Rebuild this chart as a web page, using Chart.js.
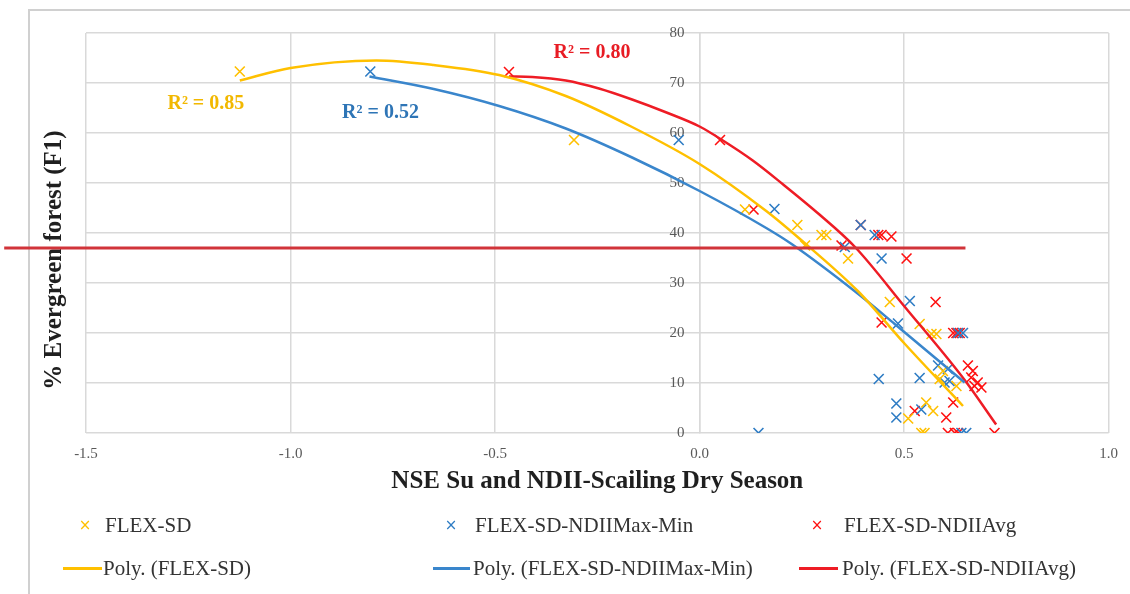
<!DOCTYPE html>
<html>
<head>
<meta charset="utf-8">
<script src="https://cdn.jsdelivr.net/npm/chart.js@4.4.1/dist/chart.umd.min.js"></script>
<style>
  html, body { margin: 0; padding: 0; background: #fff; }
  #wrap { position: relative; width: 1130px; height: 594px; overflow: hidden; }
  #c { position: absolute; left: 0; top: 0; }
  .leg { position: absolute; font-family: 'Liberation Serif', 'Times New Roman', serif; font-size: 21px; line-height: 24px; color: #333; white-space: nowrap; }
  .mk { position: absolute; font-family: 'DejaVu Sans', sans-serif; font-size: 15px; line-height: 24px; transform: translateX(-50%); }
  .sw { position: absolute; height: 3px; }
</style>
</head>
<body>
<div id="wrap">
  <canvas id="c" width="1130" height="594"></canvas>
  <div id="legend"></div>
</div>
<script>
// ---- data ----
const X_TICKS = [-1.5, -1.0, -0.5, 0.0, 0.5, 1.0];
const Y_TICKS = [0, 10, 20, 30, 40, 50, 60, 70, 80];

const SERIES = ['FLEX-SD', 'FLEX-SD-NDIIMax-Min', 'FLEX-SD-NDIIAvg'];
const R2 = ['R\u00B2 = 0.85', 'R\u00B2 = 0.52', 'R\u00B2 = 0.80'];

// FLEX-SD (yellow)
const sdX = [-1.124, -0.307, 0.111, 0.239, 0.298, 0.310, 0.258, 0.363, 0.465, 0.538, 0.567, 0.579, 0.595, 0.587, 0.628, 0.554, 0.571, 0.510, 0.542, 0.550];
const sdY = [72.3, 58.6, 44.7, 41.6, 39.6, 39.6, 37.5, 34.9, 26.2, 21.8, 19.8, 19.8, 12.4, 10.8, 9.4, 6.1, 4.4, 2.9, 0, 0];

// FLEX-SD-NDIIMax-Min (blue)
const mmX = [-0.805, -0.051, 0.183, 0.394, 0.428, 0.355, 0.445, 0.514, 0.485, 0.632, 0.644, 0.583, 0.607, 0.438, 0.538, 0.599, 0.611, 0.481, 0.542, 0.481, 0.144, 0.640, 0.652];
const mmY = [72.3, 58.6, 44.8, 41.6, 39.6, 37.2, 34.9, 26.4, 21.9, 20, 20, 13.5, 12.8, 10.8, 11.0, 10.1, 10.4, 5.9, 4.7, 3.1, 0, 0, 0];

// FLEX-SD-NDIIAvg (red)
const avX = [-0.466, 0.050, 0.132, 0.394, 0.437, 0.445, 0.469, 0.347, 0.506, 0.577, 0.445, 0.620, 0.628, 0.636, 0.656, 0.668, 0.664, 0.680, 0.672, 0.689, 0.620, 0.526, 0.603, 0.607, 0.624, 0.632, 0.721];
const avY = [72.2, 58.6, 44.7, 41.6, 39.6, 39.6, 39.3, 37.5, 34.9, 26.2, 22.1, 20, 20, 20, 13.5, 12.4, 11.1, 10.1, 9.4, 9.1, 6.1, 4.4, 3.1, 0, 0, 0, 0];

// Poly. trend lines, sampled along the drawn curves
const sdPolyX = [-1.124, -1.0, -0.79, -0.65, -0.49, -0.327, -0.165, 0.0, 0.163, 0.244, 0.388, 0.502, 0.644];
const sdPolyY = [70.5, 73.0, 74.5, 73.6, 71.6, 67.4, 61.2, 53.8, 44.4, 38.9, 28.3, 17.8, 5.4];
const mmPolyX = [-0.807, -0.65, -0.49, -0.327, -0.165, 0.0, 0.163, 0.225, 0.388, 0.477, 0.648];
const mmPolyY = [71.3, 68.8, 65.4, 60.9, 55.1, 48.4, 41.0, 37.8, 27.8, 21.8, 10.1];
const avPolyX = [-0.466, -0.409, -0.327, -0.246, -0.165, -0.084, 0.0, 0.057, 0.13, 0.203, 0.293, 0.38, 0.502, 0.648, 0.725];
const avPolyY = [71.3, 71.2, 70.5, 68.9, 66.7, 64.2, 61.3, 58.5, 54.5, 49.8, 43.7, 37.2, 25.2, 10.6, 1.7];

// the thick red marker line across the plot
const refLineY = 37;
const refLineFromX = -1.70;
const refLineToX = 0.65;

// ---- styling ----
const MARK_COLORS = ['#FFC000', '#2E7CC4', '#FF1010'];
const LINE_COLORS = ['#FFC000', '#3A86CC', '#EE1C25'];
const R2_COLORS = ['#F2B800', '#2E75B6', '#E81C24'];
const GRID = '#d9d9d9';
const SERIF = "'Liberation Serif', 'Times New Roman', serif";

const pts = (xs, ys) => xs.map((x, i) => ({ x: x, y: ys[i] }));

function scatterSet(i, xs, ys) {
  return {
    type: 'scatter', label: SERIES[i], data: pts(xs, ys),
    pointStyle: 'crossRot', pointRadius: 7, pointBorderWidth: 1.6,
    borderColor: MARK_COLORS[i], backgroundColor: MARK_COLORS[i], order: 2
  };
}
function polySet(i, xs, ys) {
  return {
    type: 'line', label: 'Poly. (' + SERIES[i] + ')', data: pts(xs, ys),
    borderColor: LINE_COLORS[i], borderWidth: 2.5, pointRadius: 0,
    cubicInterpolationMode: 'monotone', fill: false, order: 1
  };
}

const extras = {
  id: 'extras',
  beforeDraw(chart) {
    const ctx = chart.ctx;
    ctx.save();
    ctx.fillStyle = '#fff';
    ctx.fillRect(0, 0, chart.width, chart.height);
    // outer chart frame
    ctx.strokeStyle = '#d0d0d0';
    ctx.lineWidth = 2;
    ctx.beginPath();
    ctx.moveTo(29, chart.height + 5);
    ctx.lineTo(29, 10);
    ctx.lineTo(chart.width + 5, 10);
    ctx.stroke();
    // y axis title on the left
    ctx.translate(55, 260);
    ctx.rotate(-Math.PI / 2);
    ctx.font = 'bold 25px ' + SERIF;
    ctx.fillStyle = '#1f1f1f';
    ctx.textAlign = 'center';
    ctx.textBaseline = 'middle';
    ctx.fillText('% Evergreen forest (F1)', 0, 0);
    ctx.restore();
  },
  afterDraw(chart) {
    const ctx = chart.ctx, xs = chart.scales.x, ys = chart.scales.y;
    ctx.save();
    // R² labels
    const r2Pos = [[-1.207, 65.9], [-0.78, 64.1], [-0.263, 76.1]];
    ctx.font = 'bold 20px ' + SERIF;
    ctx.textAlign = 'center';
    ctx.textBaseline = 'middle';
    R2.forEach((t, i) => {
      ctx.fillStyle = R2_COLORS[i];
      ctx.fillText(t, xs.getPixelForValue(r2Pos[i][0]), ys.getPixelForValue(r2Pos[i][1]));
    });
    // red horizontal line
    const py = ys.getPixelForValue(refLineY);
    ctx.strokeStyle = '#D1343A';
    ctx.lineWidth = 3;
    ctx.beginPath();
    ctx.moveTo(xs.getPixelForValue(refLineFromX), py);
    ctx.lineTo(xs.getPixelForValue(refLineToX), py);
    ctx.stroke();
    ctx.restore();
  }
};

new Chart(document.getElementById('c'), {
  data: {
    datasets: [
      scatterSet(0, sdX, sdY), scatterSet(1, mmX, mmY), scatterSet(2, avX, avY),
      polySet(0, sdPolyX, sdPolyY), polySet(1, mmPolyX, mmPolyY), polySet(2, avPolyX, avPolyY)
    ]
  },
  options: {
    responsive: false, animation: false, devicePixelRatio: 1,
    layout: { padding: { left: 86, right: 20, top: 33, bottom: 97 } },
    plugins: { legend: { display: false }, tooltip: { enabled: false } },
    scales: {
      x: {
        type: 'linear', position: 'bottom', min: -1.5, max: 1.0,
        afterBuildTicks: s => { s.ticks = X_TICKS.map(v => ({ value: v })); },
        grid: { color: GRID, lineWidth: 1.5, drawTicks: false },
        border: { display: false },
        ticks: { padding: 12, color: '#595959', font: { family: SERIF, size: 15 }, callback: v => v.toFixed(1) },
        title: { display: true, text: 'NSE Su and NDII-Scailing Dry Season', color: '#1f1f1f', padding: { top: -8, bottom: 0 }, font: { family: SERIF, size: 25, weight: 'bold' } }
      },
      y: {
        type: 'linear', position: { x: 0 }, min: 0, max: 80,
        afterBuildTicks: s => { s.ticks = Y_TICKS.map(v => ({ value: v })); },
        grid: { color: GRID, lineWidth: 1.5, drawTicks: false },
        border: { color: GRID, width: 1.5 },
        // an em space keeps the labels clear of the axis line
        ticks: { color: '#595959', font: { family: SERIF, size: 15 }, callback: v => v + '\u2003' }
      }
    }
  },
  plugins: [extras]
});

// ---- legend (two rows, three columns) ----
const legCols = [{ mk: 85, l0: 63, l1: 102, tx: 103 }, { mk: 451, l0: 433, l1: 470, tx: 473 }, { mk: 817, l0: 799, l1: 838, tx: 842 }];
const leg = document.getElementById('legend');
SERIES.forEach((name, i) => {
  const c = legCols[i];
  leg.insertAdjacentHTML('beforeend',
    '<span class="mk" style="left:' + c.mk + 'px;top:513px;color:' + MARK_COLORS[i] + '">\u00D7</span>' +
    '<span class="leg" style="left:' + (c.tx + 2) + 'px;top:513px">' + name + '</span>' +
    '<div class="sw" style="left:' + c.l0 + 'px;width:' + (c.l1 - c.l0) + 'px;top:567px;background:' + LINE_COLORS[i] + '"></div>' +
    '<span class="leg" style="left:' + c.tx + 'px;top:556px">Poly. (' + name + ')</span>');
});
</script>
</body>
</html>
